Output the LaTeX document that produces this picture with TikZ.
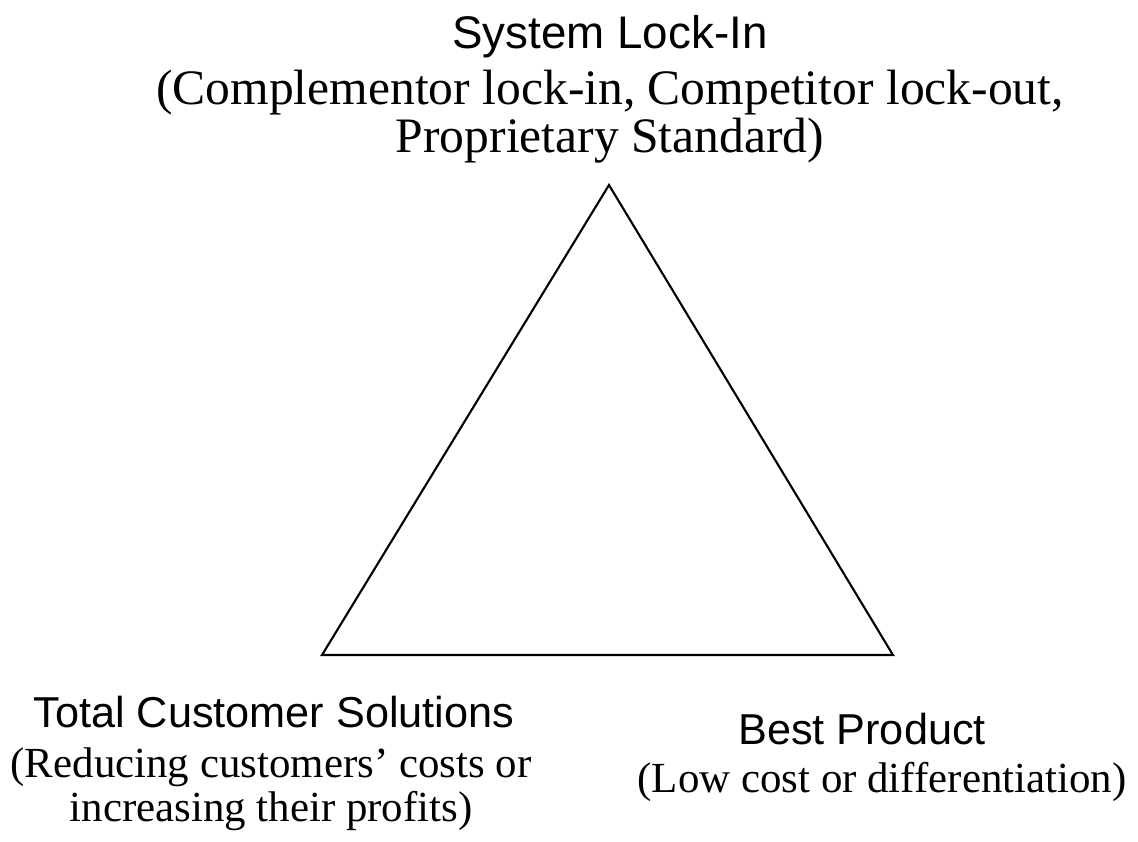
\documentclass[tikz,border=0pt]{standalone}
\usepackage{fontspec}
\setmainfont{Liberation Serif}
\setsansfont{Liberation Sans}
\tikzset{
  head/.style={font=\sffamily\fontsize{12.3}{14}\selectfont, inner sep=0pt, anchor=base},
  sub/.style={font=\fontsize{12.2}{12.5}\selectfont, inner sep=0pt, anchor=base, align=center},
}
\begin{document}
\begin{tikzpicture}[x=0.01cm, y=-0.01cm]
                \useasboundingbox (0,0) rectangle (1138,841);

                \coordinate (apex)  at (609,185);
                \coordinate (left)  at (322,655);
                \coordinate (right) at (893,655);
                \draw[line width=0.6pt] (apex) -- (left) -- (right) -- cycle;

                % top corner (base = last line of a sub node)
                \node[head, font=\sffamily\fontsize{13}{14}\selectfont]
                    (lockin) at (610,48) {System Lock-In};
                \node[sub, font=\fontsize{14.1}{13.4}\selectfont] (lockintxt) at (610,152)
                    {(Complementor lock-in, Competitor lock-out,\\Proprietary Standard)};

                % bottom corners
                \node[head] (total) at (274,727) {Total Customer Solutions};
                \node[sub]  (totaltxt) at (271,821)
                    {(Reducing customers' costs or\\increasing their profits)};

                \node[head] (best) at (862,744) {Best Product};
                \node[sub]  (besttxt) at (882,792) {(Low cost or differentiation)};
            \end{tikzpicture}
\end{document}
